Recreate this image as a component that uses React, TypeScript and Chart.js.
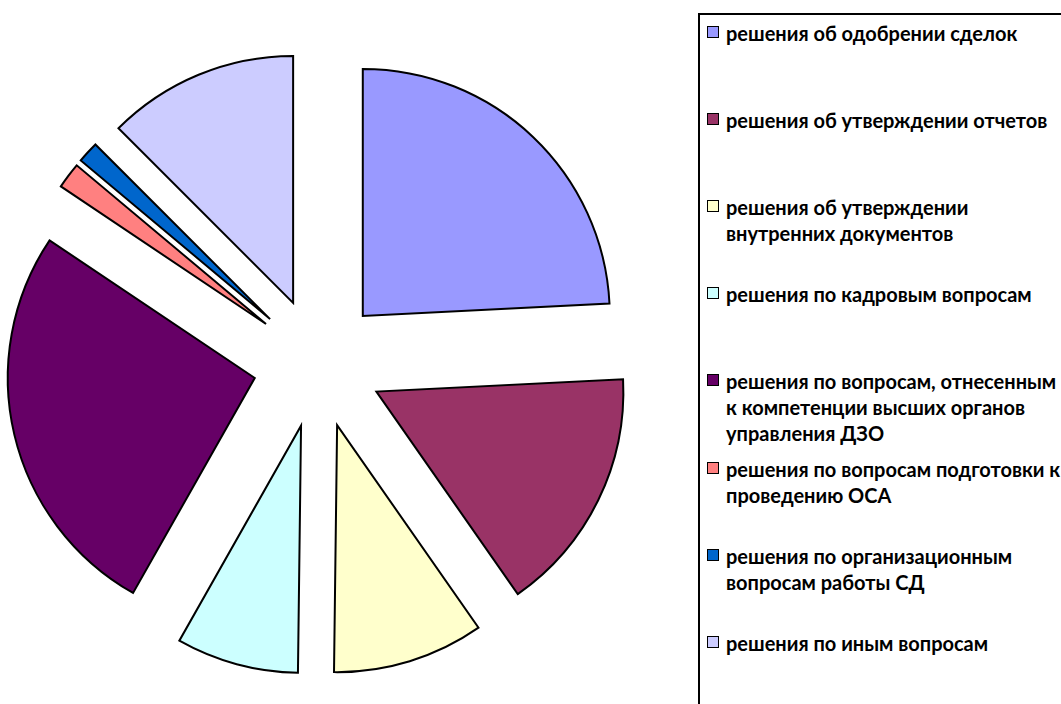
import React, { useEffect, useRef } from "react";
import { Chart, registerables } from "chart.js";

Chart.register(...registerables);

const categories: string[] = [
  "решения об одобрении сделок",
  "решения об утверждении отчетов",
  "решения об утверждении\nвнутренних документов",
  "решения по кадровым вопросам",
  "решения по вопросам, отнесенным\nк компетенции высших органов\nуправления ДЗО",
  "решения по вопросам подготовки к\nпроведению ОСА",
  "решения по организационным\nвопросам работы СД",
  "решения по иным вопросам",
];

const values: number[] = [24.2, 16.1, 9.9, 8.0, 26.2, 1.7, 1.4, 12.5];

const colors: string[] = [
  "#9999FF",
  "#993366",
  "#FFFFCC",
  "#CCFFFF",
  "#660066",
  "#FF8080",
  "#0066CC",
  "#CCCCFF",
];

const EXPLODE = 65;

const explodePlugin = {
  id: "explode",
  beforeDatasetDraw(chart: any, args: any) {
    const ctx = chart.ctx;
    args.meta.data.forEach((arc: any) => {
      const mid = (arc.startAngle + arc.endAngle) / 2;
      ctx.save();
      ctx.translate(Math.cos(mid) * EXPLODE, Math.sin(mid) * EXPLODE);
      arc.draw(ctx);
      ctx.restore();
    });
    return false;
  },
};

export default function App() {
  const ref = useRef<HTMLCanvasElement | null>(null);

  useEffect(() => {
    if (!ref.current) return;
    const chart = new Chart(ref.current, {
      type: "pie",
      data: {
        labels: categories,
        datasets: [
          {
            data: values,
            backgroundColor: colors,
            borderColor: "#000000",
            borderWidth: 2,
            borderJoinStyle: "miter",
          } as any,
        ],
      },
      options: {
        responsive: false,
        animation: false,
        radius: 247,
        layout: { padding: { top: 22, right: 54, left: 0, bottom: 0 } },
        plugins: {
          legend: { display: false },
          tooltip: { enabled: false },
        },
      } as any,
      plugins: [explodePlugin],
    });
    return () => chart.destroy();
  }, []);

  const spacing = 87.1;

  return (
    <div
      style={{
        position: "absolute",
        left: 0,
        top: 0,
        width: 1061,
        height: 704,
        overflow: "hidden",
        background: "#ffffff",
      }}
    >
      <canvas
        ref={ref}
        width={690}
        height={704}
        style={{ position: "absolute", left: 0, top: 0 }}
      />
      <div
        style={{
          position: "absolute",
          left: 698,
          top: 13,
          width: 420,
          height: 760,
          border: "2px solid #000",
          boxSizing: "border-box",
        }}
      />
      {categories.map((c, i) => (
        <div
          key={i}
          style={{
            position: "absolute",
            left: 707,
            top: 26 + i * spacing,
            display: "flex",
            alignItems: "flex-start",
          }}
        >
          <div
            style={{
              width: 12,
              height: 12,
              boxSizing: "border-box",
              border: "1.5px solid #000",
              background: colors[i],
              flex: "none",
            }}
          />
          <div
            style={{
              marginLeft: 7,
              marginTop: -6,
              fontFamily: "Lato, sans-serif",
              fontWeight: 700,
              fontSize: 20,
              lineHeight: "26px",
              color: "#000",
              whiteSpace: "pre",
            }}
          >
            {c}
          </div>
        </div>
      ))}
    </div>
  );
}
